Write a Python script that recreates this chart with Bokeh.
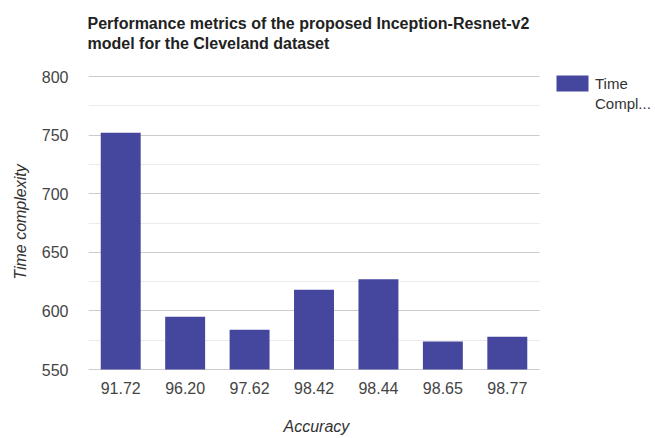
from bokeh.plotting import figure
from bokeh.models import (Title, Legend, LegendItem, SingleIntervalTicker,
                          FixedTicker, Range1d, ColumnDataSource)
from bokeh.embed import file_html
from bokeh.resources import INLINE

accuracy = ["91.72", "96.20", "97.62", "98.42", "98.44", "98.65", "98.77"]
time_complexity = [752, 595, 584, 618, 627, 574, 578]
title_lines = ["Performance metrics of the proposed Inception-Resnet-v2",
               "model for the Cleveland dataset"]
legend_lines = ["Time", "Compl..."]
x_title = "Accuracy"
y_title = "Time complexity"

FONT = "Liberation Sans"
BAR = "#45479e"
NBSP = "\u00a0"

idx = list(range(len(accuracy)))
src = ColumnDataSource(dict(i=idx, t=time_complexity))

# The frame extends to the right edge so that the legend (drawn inside it)
# is not clipped; the grid lines are limited to the category area.
p = figure(width=655, height=438,
           x_range=Range1d(-0.5, len(accuracy) + 1.3),
           y_range=Range1d(549.15, 802.56), output_backend="svg",
           toolbar_location=None, min_border_left=88, min_border_right=0,
           min_border_top=73, min_border_bottom=68)
p.outline_line_color = None
p.background_fill_color = "white"

bars = p.vbar(x="i", top="t", bottom=550, width=0.62, source=src,
              fill_color=BAR, line_color=None)
# invisible renderer used only for the second legend line
ghost = p.vbar(x=[], top=[], width=0.5, fill_alpha=0, line_alpha=0)

p.xaxis.ticker = FixedTicker(ticks=idx)
p.xaxis.major_label_overrides = {i: a for i, a in zip(idx, accuracy)}
p.yaxis.ticker = SingleIntervalTicker(interval=50, num_minor_ticks=2)
p.ygrid.grid_line_color = "#cccccc"
p.ygrid.minor_grid_line_color = "#ebebeb"
p.ygrid.cross_bounds = (-0.5, len(accuracy) - 0.5)
p.xgrid.grid_line_color = None

for ax in (p.xaxis[0], p.yaxis[0]):
    ax.axis_line_color = None
    ax.major_tick_line_color = None
    ax.minor_tick_line_color = None
    ax.major_tick_out = 0
    ax.major_tick_in = 0
    ax.major_label_text_font = FONT
    ax.major_label_text_font_size = "16px"
    ax.major_label_text_color = "#444444"
    ax.axis_label_text_font = FONT
    ax.axis_label_text_font_size = "16px"
    ax.axis_label_text_font_style = "italic"
    ax.axis_label_text_color = "#333333"

# the x label is centred on the (wider) frame: trailing no-break spaces
# move the visible word back to the centre of the category area
p.xaxis.axis_label = x_title + NBSP * 25
p.yaxis.axis_label = y_title
p.xaxis.major_label_standoff = 11
p.xaxis.axis_label_standoff = 21
p.yaxis.major_label_standoff = 16
p.yaxis.axis_label_standoff = 10

# title: an invisible spacer next to the frame, then line 2, then line 1
for text, so in ((NBSP, 3), (title_lines[1], 0), (title_lines[0], 1)):
    p.add_layout(Title(text=text, align="left", offset=-1,
                       text_font=FONT, text_font_size="16px",
                       text_font_style="bold", text_color="#222222",
                       standoff=so), "above")

legend = Legend(items=[LegendItem(label=legend_lines[0], renderers=[bars]),
                       LegendItem(label=legend_lines[1], renderers=[ghost])],
                location=(464, 257), glyph_width=40, glyph_height=20,
                label_height=20, spacing=0, padding=0, margin=0,
                label_standoff=3, label_text_font=FONT,
                label_text_font_size="15px", label_text_color="#333333",
                border_line_color=None, background_fill_alpha=0)
p.add_layout(legend, "center")

open("out.html", "w").write(file_html(p, INLINE))
